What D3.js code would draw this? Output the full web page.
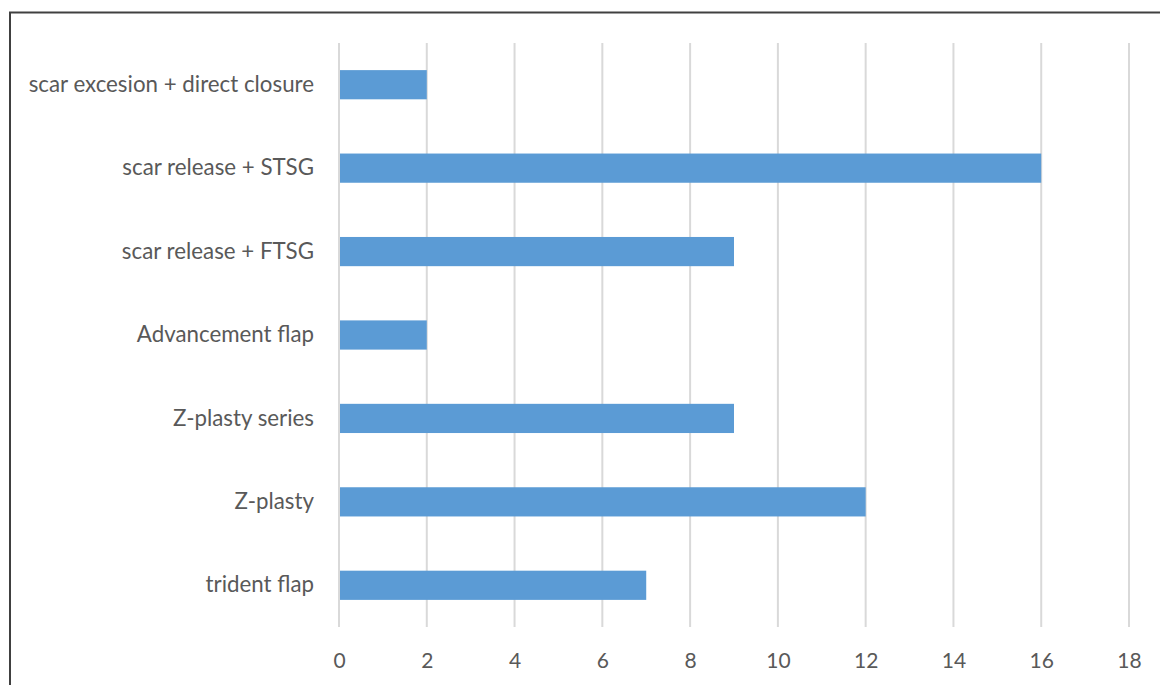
<!DOCTYPE html>
<html><head><meta charset="utf-8">
<script src="https://cdn.jsdelivr.net/npm/d3@7"></script>
<style>body{margin:0;background:#fff;} svg{display:block;}</style>
</head><body>
<svg id="c" width="1160" height="685"></svg>
<script>
const categories = ["scar excesion + direct closure","scar release + STSG","scar release + FTSG","Advancement flap","Z-plasty series","Z-plasty","trident flap"];
const values = [2,16,9,2,9,12,7];
const xTicks = [0,2,4,6,8,10,12,14,16,18];

const svg = d3.select("#c");
const font = "Lato, 'Open Sans', sans-serif";
svg.append("path").attr("d","M10,686 V12.5 H1162").attr("fill","none").attr("stroke","#404040").attr("stroke-width",2);

const x = d3.scaleLinear().domain([0,18]).range([339,1129]);
const y = d3.scaleBand().domain(categories).range([43,627]).paddingInner(0.65).paddingOuter(0.325);

svg.append("g").selectAll("line").data(xTicks).join("line")
  .attr("x1",d=>x(d)).attr("x2",d=>x(d)).attr("y1",43).attr("y2",627)
  .attr("stroke","#d9d9d9").attr("stroke-width",2);

svg.append("g").selectAll("rect").data(values).join("rect")
  .attr("x",x(0)+1).attr("y",(d,i)=>y(categories[i]))
  .attr("width",d=>x(d)-x(0)-1).attr("height",y.bandwidth())
  .attr("fill","#5b9bd5");

const xAxis = d3.axisBottom(x).tickValues(xTicks).tickSize(0).tickPadding(0);
const gx = svg.append("g").attr("transform","translate(0,627)").call(xAxis);
gx.select(".domain").remove();
gx.selectAll("text").attr("dy",null).attr("y",41).attr("font-family",font).attr("font-size",21).attr("fill","#595959");

const yAxis = d3.axisLeft(y).tickSize(0).tickPadding(0);
const gy = svg.append("g").attr("transform","translate(314,0)").call(yAxis);
gy.select(".domain").remove();
gy.selectAll("text").attr("font-family",font).attr("font-size",22.3).attr("fill","#595959");
</script>
</body></html>
